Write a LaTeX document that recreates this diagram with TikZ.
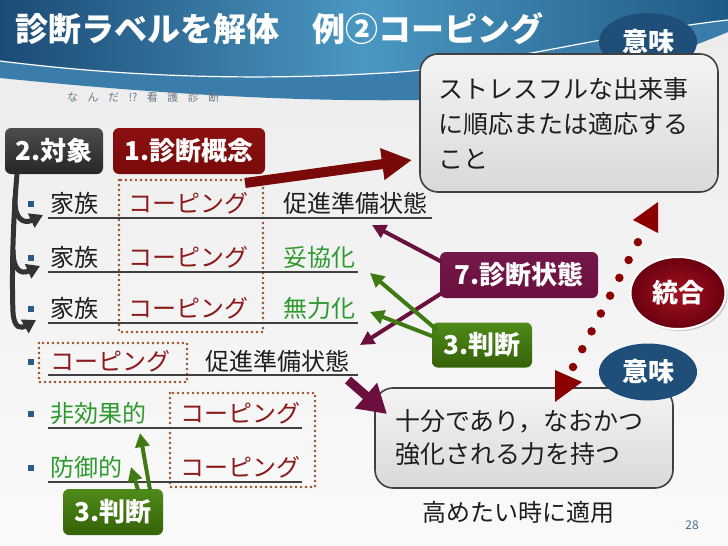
\documentclass[tikz,border=0pt]{standalone}
\usepackage{fontspec}
\setmainfont{Noto Sans CJK JP}
\usetikzlibrary{arrows.meta,shapes.geometric,shadows,calc}
\definecolor{hdDark}{HTML}{1B4A75}
\definecolor{hdMid}{HTML}{4A98C2}
\definecolor{hdRight}{HTML}{1F5A85}
\definecolor{lowc}{HTML}{3A7DAA}
\definecolor{bgtop}{HTML}{EBEBEB}
\definecolor{bgbot}{HTML}{FAFAFA}
\definecolor{copc}{HTML}{8B1A1A}
\definecolor{grc}{HTML}{2E9A2E}
\definecolor{txtc}{HTML}{1E1E1E}
\definecolor{ulc}{HTML}{404040}
\definecolor{dotc}{HTML}{9A4A22}
\definecolor{bulc}{HTML}{2A5A8A}
\definecolor{brkc}{HTML}{333333}
\definecolor{redarr}{HTML}{7A0A0A}
\definecolor{concTop}{HTML}{8C1010}
\definecolor{purpc}{HTML}{6B0F3E}
\definecolor{stTop}{HTML}{74184A}
\definecolor{grnc}{HTML}{3F7A12}
\definecolor{jTop}{HTML}{4F8A1A}
\definecolor{jBot}{HTML}{356208}
\definecolor{meanc}{HTML}{1F4E79}
\definecolor{integIn}{HTML}{A5121F}
\definecolor{integOut}{HTML}{6A0010}
\definecolor{boxtop}{HTML}{F4F4F4}
\definecolor{boxbot}{HTML}{D9D9D9}
\definecolor{boxedge}{HTML}{404040}
\definecolor{dotarc}{HTML}{8B0000}
\definecolor{pgc}{HTML}{4A6F90}
\definecolor{subc}{HTML}{6A7888}
\begin{document}
\begin{tikzpicture}[x=1pt,y=-1pt,
  tag/.style={rounded corners=6pt, minimum height=46pt, inner sep=0pt, text=white,
    font=\fontsize{26}{30}\selectfont\bfseries},
  rowtxt/.style={anchor=base west, inner sep=0pt, font=\fontsize{24}{28}\selectfont, text=txtc},
  uline/.style={draw=ulc, line width=2pt},
  dotbox/.style={draw=dotc, line width=2.6pt, dash pattern=on 0pt off 5pt, line cap=round},
  bullet/.style={fill=bulc, minimum size=6pt, inner sep=0pt},
  brk/.style={draw=brkc, line width=5pt, -{Triangle[width=15pt,length=13pt]}},
  purp/.style={draw=purpc, line width=4pt, -{Triangle[width=14pt,length=14pt]}},
  grn/.style={draw=grnc, line width=4pt, -{Triangle[width=14pt,length=14pt]}},
  infobox/.style={rounded corners=18pt, draw=boxedge, line width=1.6pt, top color=boxtop,
    bottom color=boxbot, inner ysep=0pt, align=left, text=txtc},
  oval/.style={ellipse, inner sep=0pt, text=white, font=\fontsize{26}{30}\selectfont\bfseries}
]
\useasboundingbox (0,0) rectangle (728,546);
% background
\fill[top color=bgtop, bottom color=bgbot] (0,0) rectangle (728,546);
% header lower band
\fill[lowc]
  (0,50) -- (728,10) -- (728,32) .. controls (660,60) and (560,95) .. (420,100)
  .. controls (280,102) and (140,92) .. (0,78) -- cycle;
% header upper band
\fill[hdDark!80!hdMid]
  (0,0) -- (728,0) -- (728,20) .. controls (620,32) and (500,64) .. (400,72)
  .. controls (250,82) and (120,76) .. (0,61) -- cycle;
\shade[left color=hdDark, right color=hdRight, middle color=hdMid]
  (0,0) -- (728,0) -- (728,20) .. controls (620,32) and (500,64) .. (400,72)
  .. controls (250,82) and (120,76) .. (0,61) -- cycle;
\draw[white, line width=1.2pt]
  (0,61) .. controls (120,76) and (250,82) .. (400,72) .. controls (500,64) and (620,32) .. (728,20);
% title
\node (title) [anchor=west, inner sep=0pt, text=white, font=\fontsize{33}{36}\selectfont\bfseries]
  at (15,29) {診断ラベルを解体　例②コーピング};
\node (sub) [anchor=west, inner sep=0pt, text=subc, font=\fontsize{11}{13}\selectfont]
  at (67,97) {な\hspace{9.5pt}ん\hspace{9.5pt}だ\hspace{9.5pt}!?\hspace{9.5pt}看\hspace{9.5pt}護\hspace{9.5pt}診\hspace{9.5pt}断};

% top meaning
\node (meanT) [oval, fill=meanc, minimum width=98pt, minimum height=58pt] at (648,42) {意味};
\node (boxT) [infobox, minimum width=298pt, minimum height=138pt, text width=262pt, inner xsep=18pt,
  font=\fontsize{25}{35}\selectfont] at (569,123)
  {ストレスフルな出来事\\に順応または適応する\\こと};

% tags
\node (subj) [tag, minimum width=98pt, top color=black!70, bottom color=black!85] at (54,151) {2.対象};
\node (conc) [tag, minimum width=152pt, top color=concTop, bottom color=redarr] at (189,151) {1.診断概念};

% dotted boxes
\draw[dotbox] (119,180) rectangle (263,332);
\draw[dotbox] (39,343) rectangle (187,382);
\draw[dotbox] (170,393) rectangle (315,487);

% rows
\foreach \yb in {212,266,317,370,422,476} \node[bullet] at (31,\yb-8) {};
\node (r1a) [rowtxt] at (50,212) {家族};
\node (r1b) [rowtxt, text=copc] at (128,212) {コーピング};
\node (r1c) [rowtxt] at (283,212) {促進準備状態};
\node (r2a) [rowtxt] at (50,266) {家族};
\node (r2b) [rowtxt, text=copc] at (128,266) {コーピング};
\node (r2c) [rowtxt, text=grc] at (283,266) {妥協化};
\node (r3a) [rowtxt] at (50,317) {家族};
\node (r3b) [rowtxt, text=copc] at (128,317) {コーピング};
\node (r3c) [rowtxt, text=grc] at (283,317) {無力化};
\node (r4a) [rowtxt, text=copc] at (50,370) {コーピング};
\node (r4b) [rowtxt] at (205,370) {促進準備状態};
\node (r5a) [rowtxt, text=grc] at (50,422) {非効果的};
\node (r5b) [rowtxt, text=copc] at (180,422) {コーピング};
\node (r6a) [rowtxt, text=grc] at (50,476) {防御的};
\node (r6b) [rowtxt, text=copc] at (180,476) {コーピング};
\draw[uline] (48,218) -- (432,218);
\draw[uline] (48,272) -- (358,272);
\draw[uline] (48,323) -- (358,323);
\draw[uline] (48,375) -- (358,375);
\draw[uline] (48,428) -- (302,428);
\draw[uline] (48,482) -- (302,482);

% left bracket
\coordinate (b0) at (17,174);
\coordinate (t1) at (43,215);
\coordinate (t2) at (40,266);
\coordinate (t3) at (36,320);
\draw[brk] (b0) .. controls (12,230) and (12,290) .. (13,312) .. controls (14,330) and (22,328) .. (t3);
\draw[brk] (15,198) .. controls (14,220) and (24,224) .. (t1);
\draw[brk] (13,250) .. controls (13,272) and (22,274) .. (t2);

% big red arrow
\coordinate (a0) at (245,183);
\coordinate (a1) at (412,160);
\draw[draw=redarr, line width=10pt, -{Triangle[width=30pt,length=30pt]}] (a0) -- (a1);

% status tag and judgement tags
\node (st) [tag, minimum width=158pt, top color=stTop, bottom color=purpc] at (519,275) {7.診断状態};
\node (j1) [tag, minimum width=100pt, minimum height=45pt, top color=jTop, bottom color=jBot] at (482,345) {3.判断};
\node (j2) [tag, minimum width=100pt, top color=jTop, bottom color=jBot] at (113,512) {3.判断};

\coordinate (p1) at (372,225);
\coordinate (p2) at (360,345);
\coordinate (s1) at (442,262);
\coordinate (s2) at (442,293);
\draw[purp] (s1) -- (p1);
\draw[purp] (s2) -- (p2);
\coordinate (g1) at (370,273);
\coordinate (g2) at (370,312);
\coordinate (h1) at (437,330);
\coordinate (h2) at (437,338);
\draw[grn] (h1) -- (g1);
\draw[grn] (h2) -- (g2);
\coordinate (g3) at (140,433);
\coordinate (g4) at (131,467);
\coordinate (h3) at (150,490);
\coordinate (h4) at (138,490);
\draw[grn] (h3) -- (g3);
\draw[grn] (h4) -- (g4);

% bottom box
\node (boxB) [infobox, minimum width=298pt, minimum height=100pt, text width=258pt, inner xsep=20pt,
  font=\fontsize{25}{33}\selectfont] at (524,438)
  {十分であり，なおかつ\\強化される力を持つ};
\coordinate (q0) at (348,380);
\coordinate (q1) at (387,414);
\draw[draw=purpc, line width=9pt, -{Triangle[width=32pt,length=28pt]}] (q0) -- (q1);

% integration
\node (integ) [oval, minimum width=95pt, minimum height=72pt, inner color=integIn, outer color=integOut,
  draw=white, line width=2pt, drop shadow={opacity=0.35, shadow xshift=2pt, shadow yshift=-2pt}] at (678,293) {統合};
% bottom meaning
\node (meanB) [oval, fill=meanc, minimum width=98pt, minimum height=57pt] at (648,372) {意味};

% dotted link
\coordinate (d0) at (573,367);
\coordinate (d1) at (638,242);
\draw[draw=dotarc, line width=8.5pt, line cap=round, dash pattern=on 0pt off 20.1pt] (d0) -- (d1);
\fill[dotarc] (633,220) -- (658,202) -- (658,233) -- cycle;
\fill[dotarc] (555,370) -- (582,382) -- (555,402) -- cycle;

\node (apply) [font=\fontsize{24}{28}\selectfont, text=txtc, inner sep=0pt] at (518,512) {高めたい時に適用};
\node (pg) [font=\fontsize{12}{14}\selectfont, text=pgc, inner sep=0pt] at (692,525) {28};
\end{tikzpicture}
\end{document}
